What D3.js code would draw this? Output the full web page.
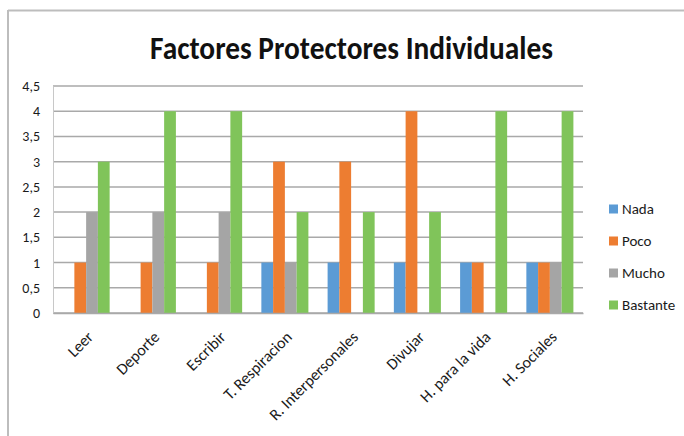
<!DOCTYPE html>
<html>
<head>
<meta charset="utf-8">
<script src="https://cdn.jsdelivr.net/npm/d3@7"></script>
<style>
  html, body { margin: 0; padding: 0; background: #fff; }
  svg { display: block; }
  svg text { font-family: Carlito, "Liberation Sans Narrow", "Liberation Sans", sans-serif; }
</style>
</head>
<body>
<svg id="chart" width="684" height="436"></svg>
<script>
// Categories and series values
const categories = ["Leer", "Deporte", "Escribir", "T. Respiracion", "R. Interpersonales", "Divujar", "H. para la vida", "H. Sociales"];
const seriesNames = ["Nada", "Poco", "Mucho", "Bastante"];
const nada     = [0, 0, 0, 1, 1, 1, 1, 1];
const poco     = [1, 1, 1, 3, 3, 4, 1, 1];
const mucho    = [2, 2, 2, 1, 0, 0, 0, 1];
const bastante = [3, 4, 4, 2, 2, 2, 4, 4];
const yTicks   = [0, 0.5, 1, 1.5, 2, 2.5, 3, 3.5, 4, 4.5];
const colors   = ["#5B9BD5", "#ED7D31", "#A5A5A5", "#80C45A"];
const title    = "Factores Protectores Individuales";

const seriesValues = [nada, poco, mucho, bastante];

const svg = d3.select("#chart");

// outer frame (top and left edges)
svg.append("line").attr("x1", 8).attr("x2", 684).attr("y1", 10.5).attr("y2", 10.5)
  .attr("stroke", "#bdbdbd").attr("stroke-width", 2);
svg.append("line").attr("x1", 8).attr("x2", 8).attr("y1", 10).attr("y2", 436)
  .attr("stroke", "#bdbdbd").attr("stroke-width", 2);

const plot = { left: 53, right: 583, top: 86, bottom: 313 };

const x0 = d3.scaleBand().domain(categories).range([plot.left, plot.right]).paddingInner(0.29).paddingOuter(0.145);
const x1 = d3.scaleBand().domain(seriesNames).range([0, x0.bandwidth()]);
const y = d3.scaleLinear().domain([0, 4.5]).range([plot.bottom, plot.top]);

// gridlines
svg.append("g").selectAll("line").data(yTicks).join("line")
  .attr("x1", plot.left).attr("x2", plot.right)
  .attr("y1", d => y(d)).attr("y2", d => y(d))
  .attr("stroke", "#a9a9a9").attr("stroke-width", 1.5);

// y axis labels
const fmt = d => String(d).replace(".", ",");
const yAxis = d3.axisLeft(y).tickValues(yTicks).tickFormat(fmt).tickSize(0).tickPadding(13);
const yg = svg.append("g").attr("transform", `translate(${plot.left},0)`).call(yAxis);
yg.attr("font-family", null);
yg.select(".domain").attr("stroke", "#c8c8c8");
yg.selectAll("text").attr("font-size", 14).attr("fill", "#1a1a1a");

// bars
const groups = svg.append("g").selectAll("g").data(categories).join("g")
  .attr("transform", d => `translate(${x0(d)},0)`);
groups.selectAll("rect")
  .data((c, i) => seriesNames.map((s, j) => ({ s, v: seriesValues[j][i], j })))
  .join("rect")
  .attr("x", d => x1(d.s))
  .attr("width", x1.bandwidth())
  .attr("y", d => y(d.v))
  .attr("height", d => y(0) - y(d.v))
  .attr("fill", d => colors[d.j]);

// x axis with slanted category labels
const xAxis = d3.axisBottom(x0).tickSize(0).tickPadding(0);
const xg = svg.append("g").attr("transform", `translate(0,${plot.bottom})`).call(xAxis);
xg.attr("font-family", null);
xg.select(".domain").attr("stroke", "#a9a9a9").attr("stroke-width", 1.5);
xg.selectAll("text")
  .attr("font-size", 16).attr("fill", "#1a1a1a")
  .attr("text-anchor", "end")
  .attr("x", 0).attr("y", 0).attr("dy", 0)
  .attr("transform", "translate(8,25) rotate(-45)");

// title
svg.append("text").attr("x", 351.5).attr("y", 59)
  .attr("text-anchor", "middle").attr("font-size", 32).attr("font-weight", "bold")
  .attr("textLength", 403).attr("lengthAdjust", "spacingAndGlyphs")
  .attr("fill", "#111").text(title);

// legend
const legend = svg.append("g").selectAll("g").data(seriesNames).join("g")
  .attr("transform", (d, i) => `translate(609,${209 + i * 32})`);
legend.append("rect").attr("x", 0).attr("y", -4.5).attr("width", 9).attr("height", 9)
  .attr("fill", (d, i) => colors[i]);
legend.append("text").attr("x", 13).attr("y", 0).attr("dy", "0.35em")
  .attr("font-size", 15).attr("fill", "#1a1a1a").text(d => d);
</script>
</body>
</html>
